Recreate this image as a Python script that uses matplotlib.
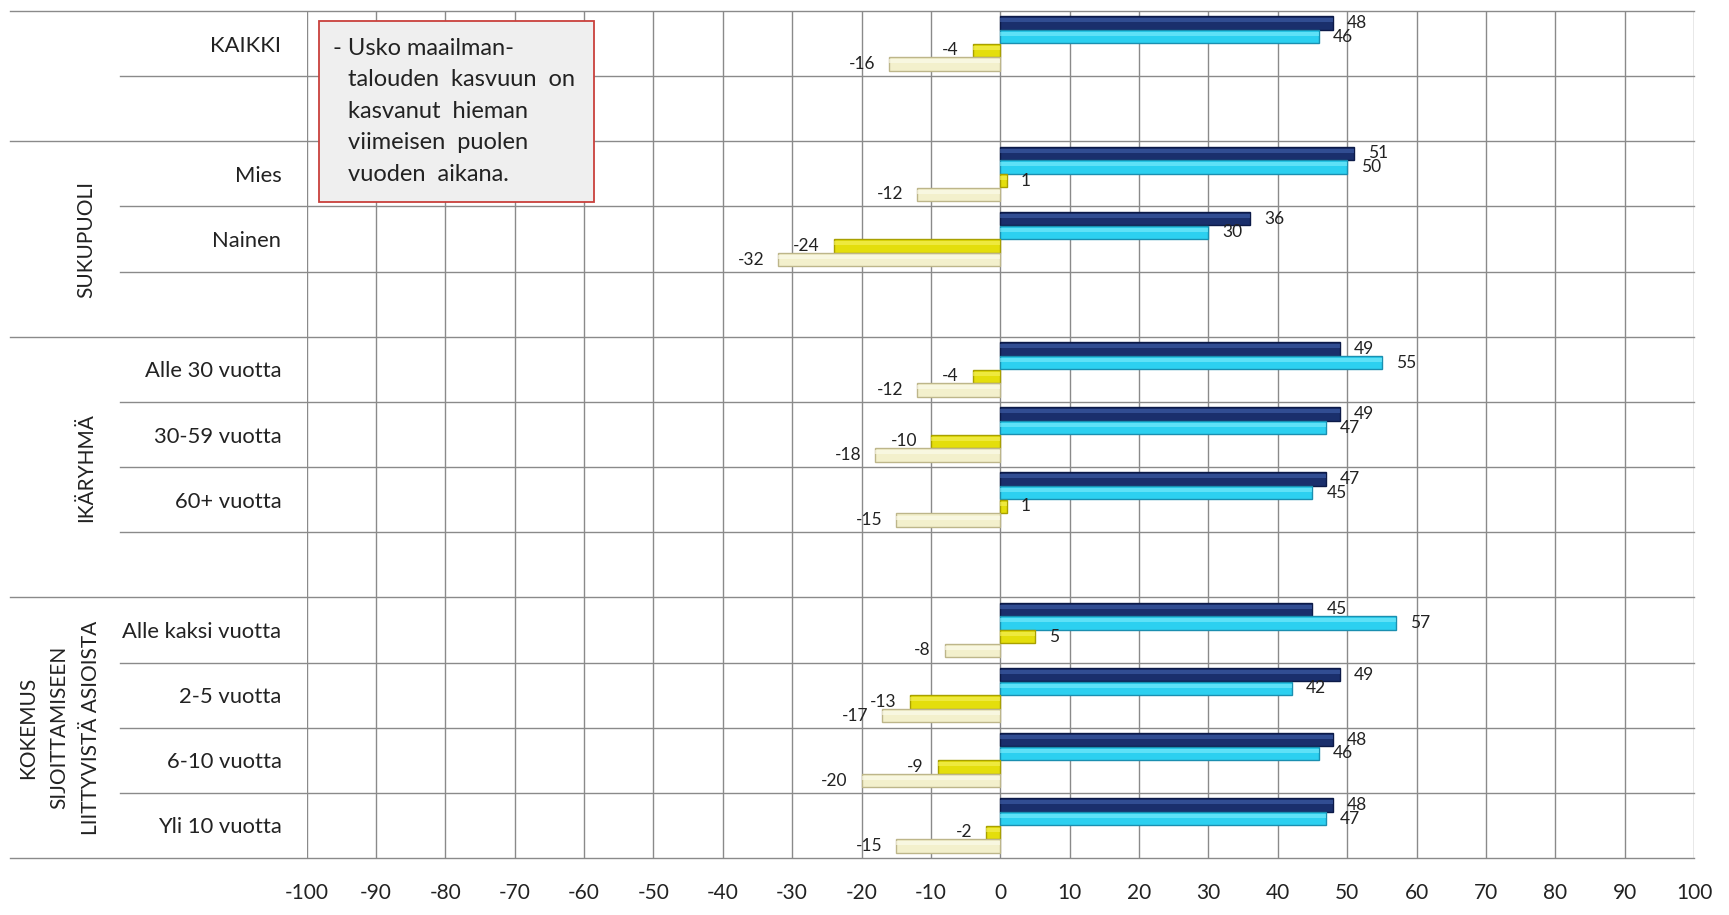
import numpy as np
import matplotlib
matplotlib.use("Agg")
import matplotlib.pyplot as plt
from matplotlib.patches import Rectangle

plt.rcParams['font.family'] = ['Lato', 'DejaVu Sans']

# rivit ylhäältä alas, tyhjät rivit ryhmien välissä
rivit = ["KAIKKI", "", "Mies", "Nainen", "", "Alle 30 vuotta", "30-59 vuotta",
         "60+ vuotta", "", "Alle kaksi vuotta", "2-5 vuotta", "6-10 vuotta",
         "Yli 10 vuotta"]
nan = np.nan
sarja1 = [48, nan, 51, 36, nan, 49, 49, 47, nan, 45, 49, 48, 48]
sarja2 = [46, nan, 50, 30, nan, 55, 47, 45, nan, 57, 42, 46, 47]
sarja3 = [-4, nan, 1, -24, nan, -4, -10, 1, nan, 5, -13, -9, -2]
sarja4 = [-16, nan, -12, -32, nan, -12, -18, -15, nan, -8, -17, -20, -15]

ryhmat = ["SUKUPUOLI", "IKÄRYHMÄ", "KOKEMUS\nSIJOITTAMISEEN\nLIITTYVISTÄ ASIOISTA"]
ryhma_keskit = [3, 6.5, 10.5]

laatikko_rivit = ["- Usko maailman-", "talouden  kasvuun  on", "kasvanut  hieman",
                  "viimeisen  puolen", "vuoden  aikana."]

xtikit = list(range(-100, 101, 10))

varit = ["#1a2f6c", "#2cd0f0", "#e4de0c", "#f3f0cc"]
reunat = ["#0c1a48", "#1a8fb0", "#a8a000", "#bdb68a"]
valot = ["#4262ac", "#80eefc", "#f6f260", "#fdfcee"]

fig = plt.figure(figsize=(17.29, 9.15), dpi=100)
ax = fig.add_axes([306.5 / 1729, 1 - 858 / 915, 1387.5 / 1729, 847 / 915])

y = np.arange(len(rivit))
h = 0.205
offs = [-0.315, -0.105, 0.105, 0.315]
for s, off, c, e, v in zip([sarja1, sarja2, sarja3, sarja4], offs, varit, reunat, valot):
    arr = np.array(s, dtype=float)
    ax.barh(y + off, arr, height=h, color=c, edgecolor=e, linewidth=1.0, zorder=3)
    ax.barh(y + off - h * 0.2, arr, height=h * 0.3, color=v, linewidth=0, zorder=4, alpha=0.6)
    for yi, val in zip(y, arr):
        if np.isnan(val):
            continue
        if val >= 0:
            ax.annotate(f"{val:g}", (val, yi + off), xytext=(10, 0), textcoords="offset points",
                        ha="left", va="center", fontsize=12.5, color="#222222", zorder=5)
        else:
            ax.annotate(f"{val:g}", (val, yi + off), xytext=(-10, 0), textcoords="offset points",
                        ha="right", va="center", fontsize=12.5, color="#222222", zorder=5)

ax.set_xlim(-100, 100)
ax.set_ylim(len(rivit) - 0.5, -0.5)
ax.set_xticks(xtikit)
ax.set_xticklabels([str(t) for t in xtikit], fontsize=15, color="#222222")
ax.set_yticks(y)
ax.set_yticklabels(rivit, fontsize=15.8, color="#222222")
ax.tick_params(axis="both", length=0)
ax.tick_params(axis="x", pad=18)
ax.tick_params(axis="y", pad=18)
for sp in ax.spines.values():
    sp.set_visible(False)

for t in xtikit:
    ax.axvline(t, color="#8a8a8a", linewidth=1.0, zorder=1)

# rivien erottimet, ryhmärajat koko leveydeltä
tr = ax.get_yaxis_transform()
for k in range(len(rivit) + 1):
    yy = k - 0.5
    pitka = k in (0, 2, 5, 9, len(rivit))
    x0 = -0.2137 if pitka else -0.1344
    ax.plot([x0, 1], [yy, yy], transform=tr, color="#8a8a8a", linewidth=1.0,
            clip_on=False, zorder=1)

for nimi, yc in zip(ryhmat, ryhma_keskit):
    xr = -0.178 if "\n" in nimi else -0.159
    ax.text(xr, yc, nimi, transform=tr, rotation=90, ha="center", va="center",
            multialignment="center", fontsize=15, color="#222222", linespacing=1.7)

# tekstilaatikko
fig.add_artist(Rectangle((319 / 1729, 1 - 202 / 915), 275 / 1729, 181 / 915,
                         transform=fig.transFigure, facecolor="#efefef",
                         edgecolor="#c9403c", linewidth=1.3, zorder=10))
for i, rivi in enumerate(laatikko_rivit):
    xpx = 333 if i == 0 else 348
    ypx = 48.5 + i * 31.4
    fig.text(xpx / 1729, 1 - ypx / 915, rivi, ha="left", va="center",
             fontsize=17, color="#222222", zorder=11)

fig.savefig("out.png", dpi=100, facecolor="white")
